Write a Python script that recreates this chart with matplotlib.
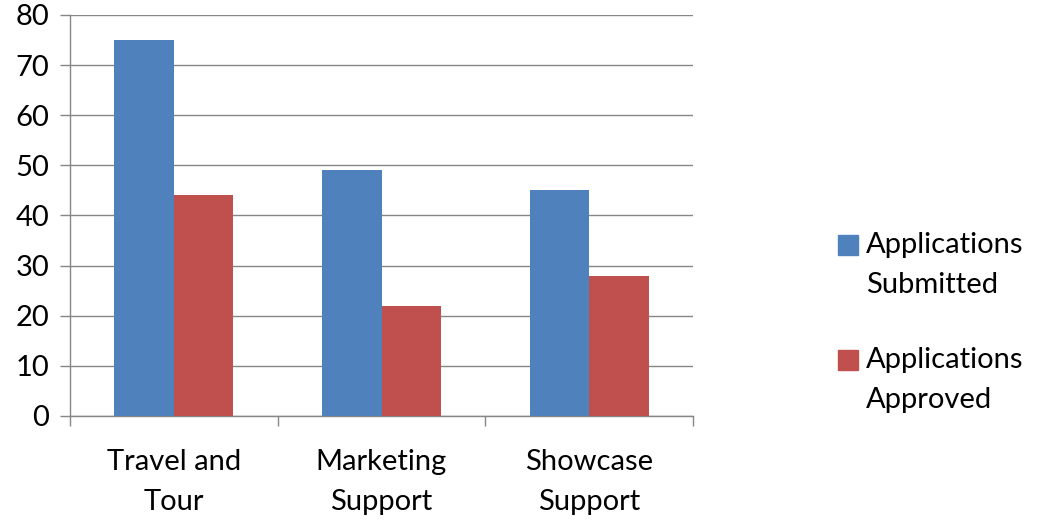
import matplotlib.pyplot as plt
from matplotlib.patches import Rectangle
import numpy as np

categories = ["Travel and\nTour", "Marketing\nSupport", "Showcase\nSupport"]
submitted = [75, 49, 45]
approved = [44, 22, 28]
series_names = ["Applications\nSubmitted", "Applications\nApproved"]
y_ticks = [0, 10, 20, 30, 40, 50, 60, 70, 80]

BLUE = "#4F81BD"
RED = "#C0504D"
GRID = "#868686"

plt.rcParams['font.family'] = ['Lato', 'DejaVu Sans']

fig = plt.figure(figsize=(10.38, 5.21), dpi=100)
W, H = 1038, 521
ax = fig.add_axes([70 / W, (H - 416) / H, (693 - 70) / W, (416 - 15) / H])

x = np.arange(len(categories))
w = 0.287
ax.bar(x - w / 2, submitted, w, color=BLUE, zorder=3)
ax.bar(x + w / 2, approved, w, color=RED, zorder=3)

ax.set_xlim(-0.5, len(categories) - 0.5)
ax.set_ylim(0, 80)
ax.set_yticks(y_ticks)
ax.yaxis.grid(True, color=GRID, linewidth=1.0, zorder=0)
ax.tick_params(axis='y', labelsize=21, length=7, color=GRID, pad=8, width=1.0)

# boundary ticks between categories, labels in the middle
ax.set_xticks(np.arange(-0.5, len(categories)), labels=[])
ax.set_xticks(x, labels=categories, minor=True)
ax.tick_params(axis='x', which='major', length=7, color=GRID, width=1.0)
ax.tick_params(axis='x', which='minor', length=0, labelsize=21, pad=24)
for lbl in ax.get_xticklabels(minor=True):
    lbl.set_linespacing(1.65)

for side in ['top', 'right']:
    ax.spines[side].set_visible(False)
for side in ['left', 'bottom']:
    ax.spines[side].set_color(GRID)
    ax.spines[side].set_linewidth(1.0)

# legend on the right, squares aligned with the first line of text
for name, color, ytop in [(series_names[0], BLUE, 235), (series_names[1], RED, 350)]:
    fig.patches.append(Rectangle((838 / W, (H - ytop - 20) / H), 20 / W, 20 / H,
                                 transform=fig.transFigure, color=color))
    fig.text(866 / W, (H - ytop + 3) / H, name, fontsize=21, va='top', ha='left',
             linespacing=1.65)

fig.savefig("out.png", dpi=100)
